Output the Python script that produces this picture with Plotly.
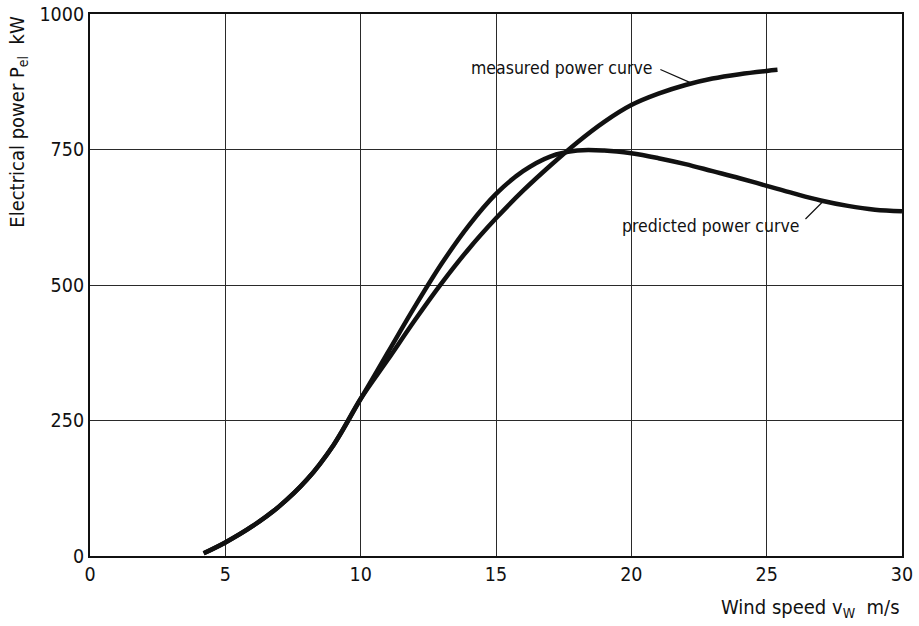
import plotly.graph_objects as go

# Wind speed (m/s) and power (kW)
predicted_x = [4.2, 5, 6, 7, 8, 9, 10, 11, 12, 13, 14, 15, 16, 17, 18, 19, 20,
               21, 22, 23, 24, 25, 26, 27, 28, 29, 30]
predicted_y = [5, 25, 55, 92, 140, 205, 290, 375, 460, 540, 610, 668, 710, 737,
               748, 748, 743, 734, 723, 710, 697, 683, 669, 656, 646, 639, 636]

measured_x = [4.2, 5, 6, 7, 8, 9, 10, 11, 12, 13, 14, 15, 16, 17, 18, 19, 20,
              21, 22, 23, 24, 25, 25.4]
measured_y = [5, 25, 55, 92, 140, 205, 290, 362, 435, 504, 567, 623, 674, 720,
              763, 801, 832, 853, 869, 881, 889, 895, 897]

x_ticks = [0, 5, 10, 15, 20, 25, 30]
y_ticks = [0, 250, 500, 750, 1000]

FONT = "DejaVu Sans Condensed, Liberation Sans, sans-serif"
INK = "#111111"

fig = go.Figure()
fig.add_trace(go.Scatter(x=predicted_x, y=predicted_y, mode="lines",
                         line=dict(color=INK, width=4.5, shape="spline", smoothing=1.0),
                         name="predicted power curve", showlegend=False, cliponaxis=False))
fig.add_trace(go.Scatter(x=measured_x, y=measured_y, mode="lines",
                         line=dict(color=INK, width=4.5, shape="spline", smoothing=1.0),
                         name="measured power curve", showlegend=False, cliponaxis=False))

axis_common = dict(showgrid=True, gridcolor="#2a2a2a", gridwidth=1.3,
                   showline=True, linecolor=INK, linewidth=2, mirror=True,
                   zeroline=False, ticks="", automargin=False,
                   ticklabeloverflow="allow",
                   tickfont=dict(size=19.5, color=INK, family=FONT))
fig.update_xaxes(range=[0, 30], tickvals=x_ticks, ticktext=[str(v) for v in x_ticks],
                 **axis_common)
fig.update_yaxes(range=[0, 1000], tickvals=y_ticks, ticktext=[str(v) for v in y_ticks],
                 **axis_common)

annotations = [
    dict(text="Electrical power P<sub>el</sub>  kW", xref="paper", yref="paper",
         x=-0.089, y=1.0, xanchor="center", yanchor="top", textangle=-90,
         showarrow=False, font=dict(size=20, color=INK, family=FONT)),
    dict(text="Wind speed v<sub>W</sub>  m/s", xref="paper", yref="paper",
         x=1.0, y=-0.096, xanchor="right", yanchor="middle",
         showarrow=False, font=dict(size=20, color=INK, family=FONT)),
    dict(text="measured power curve", x=20.85, y=900, xanchor="right", yanchor="middle",
         showarrow=False, font=dict(size=17.5, color=INK, family=FONT)),
    dict(text="", x=22.2, y=873, ax=-32, ay=-14, showarrow=True, arrowhead=0,
         arrowwidth=1.2, arrowcolor=INK),
    dict(text="predicted power curve", x=26.26, y=609, xanchor="right", yanchor="middle",
         showarrow=False, font=dict(size=17.5, color=INK, family=FONT)),
    dict(text="", x=27.08, y=654, ax=-19, ay=19, showarrow=True, arrowhead=0,
         arrowwidth=1.2, arrowcolor=INK),
]

fig.update_layout(width=919, height=626,
                  margin=dict(l=90, r=17, t=14, b=70),
                  paper_bgcolor="white", plot_bgcolor="white",
                  font=dict(family=FONT, color=INK),
                  annotations=annotations)

# remove the default page margin so the figure sits at the window's corner
fig.write_html("out.html", config={"displayModeBar": False},
               post_script="document.body.style.margin='0px';")
